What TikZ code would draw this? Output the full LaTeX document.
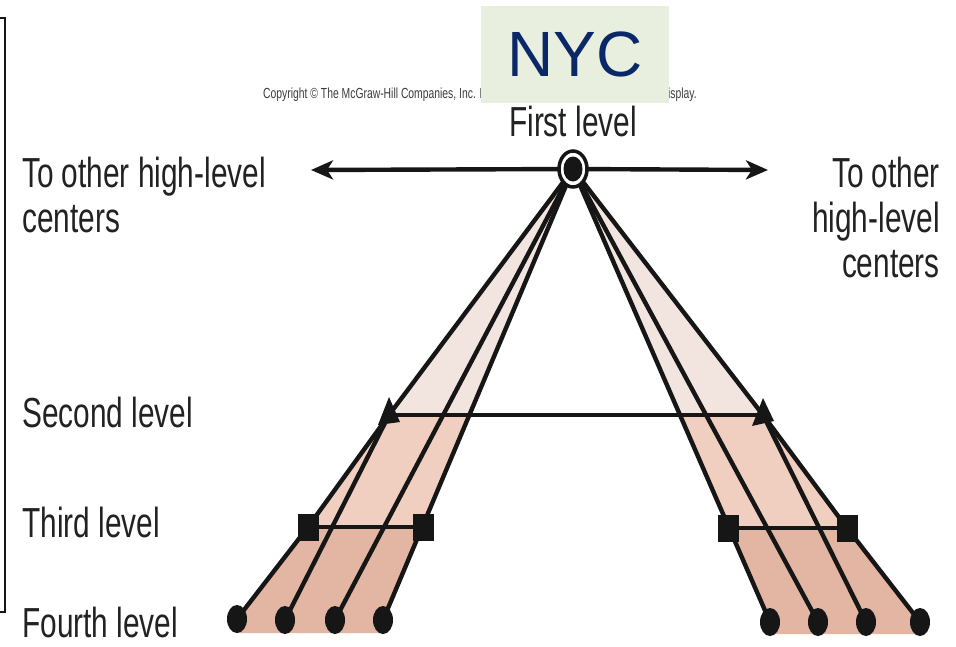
\documentclass[tikz,border=0pt]{standalone}
\usepackage{fontspec}
\setmainfont{Liberation Sans}
\newfontfamily\nf[FakeStretch=0.71]{Liberation Sans}
\usetikzlibrary{arrows.meta,shapes.geometric,calc}
\pgfdeclarelayer{paper}
\pgfdeclarelayer{shade}
\pgfdeclarelayer{wires}
\pgfsetlayers{paper,shade,wires,main}
\definecolor{ink}{RGB}{22,22,22}
\definecolor{labelc}{RGB}{34,34,34}
\definecolor{copyc}{RGB}{60,60,60}
\definecolor{nycbg}{RGB}{233,239,222}
\definecolor{nycfg}{RGB}{10,40,104}
\definecolor{shA}{RGB}{242,228,222}
\definecolor{shB}{RGB}{241,207,192}
\definecolor{shC}{RGB}{227,181,163}
\begin{document}
\begin{tikzpicture}[x=1pt,y=-1pt,
  wire/.style={line width=4.4pt, draw=ink, line cap=round},
  tipstyle/.style={-{Stealth[length=22pt,width=19pt,inset=6pt]}},
  dotnode/.style={ellipse, fill=ink, minimum width=20pt, minimum height=28pt, inner sep=0pt},
  sqnode/.style={rectangle, fill=ink, minimum width=21pt, minimum height=27pt, inner sep=0pt},
  lbl/.style={font=\nf\fontsize{42}{45}\selectfont, text=labelc, inner sep=0pt},
  nycbox/.style={fill=nycbg, minimum width=188pt, minimum height=97pt, inner sep=0pt,
     text=nycfg, font=\fontsize{64}{70}\selectfont}]
\useasboundingbox (0,0) rectangle (956,646);
\begin{pgfonlayer}{paper}
  \fill[white] (0,0) rectangle (956,646);
\end{pgfonlayer}

% left bracket
\draw[line width=2pt, ink] (0,18) -- (5,18) -- (5,612) -- (0,612);

% copyright line (partly hidden by NYC box)
\node[font=\nf\fontsize{14.6}{16}\selectfont, text=copyc, anchor=base west, inner sep=0pt]
  (copy) at (263,98) {Copyright © The McGraw-Hill Companies, Inc. Permission required for reproduction or display.};
\node[nycbox] (nyc) at (575,54.5) {NYC};

% labels
\node[lbl, anchor=base] (first) at (573,136) {First level};
\node[lbl, anchor=base west] (tolA) at (22,187) {To other high-level};
\node[lbl, anchor=base west] (tolB) at (22,232) {centers};
\node[lbl, anchor=base east] (torA) at (940,187) {To other};
\node[lbl, anchor=base east] (torB) at (940,232) {high-level};
\node[lbl, anchor=base east] (torC) at (940,277) {centers};
\node[lbl, anchor=base west] (second) at (22,427) {Second level};
\node[lbl, anchor=base west] (third) at (22,537) {Third level};
\node[lbl, anchor=base west] (fourth) at (22,637) {Fourth level};

% hub
\node[ellipse, draw=ink, line width=3.5pt, fill=white, minimum width=28pt, minimum height=36pt, inner sep=0pt] (hub) at (573,169) {};
\fill[ink] (hub.center) ellipse [x radius=9.5pt, y radius=12.5pt];
\coordinate (arrL) at (311,170);
\coordinate (arrR) at (768,170);

% second level triangles
\coordinate (t2L) at (389,415);
\coordinate (t2R) at (763,415);
\fill[ink] ($(t2L)+(0,-18)$) -- ($(t2L)+(-11,10)$) -- ($(t2L)+(11,7)$) -- cycle;
\fill[ink] ($(t2R)+(0,-17)$) -- ($(t2R)+(-11,11)$) -- ($(t2R)+(11,6)$) -- cycle;

% third level squares
\node[sqnode] (s3a) at (308,527) {};
\node[sqnode] (s3b) at (423,527) {};
\node[sqnode] (s3c) at (728,528) {};
\node[sqnode] (s3d) at (847,528) {};

% fourth level dots
\node[dotnode] (d1) at (237,619) {};
\node[dotnode] (d2) at (285,620) {};
\node[dotnode] (d3) at (335,620) {};
\node[dotnode] (d4) at (383,620) {};
\node[dotnode] (d5) at (770,622) {};
\node[dotnode] (d6) at (818,622) {};
\node[dotnode] (d7) at (866,622) {};
\node[dotnode] (d8) at (920,622) {};

\begin{pgfonlayer}{shade}
  % left
  \fill[shA] (573,169) -- (389,415) -- (469.5,415) -- cycle;
  \fill[shB] (389,415) -- (469.5,415) -- (422.5,527) -- (308,527) -- cycle;
  \fill[shC] (308,527) -- (422.5,527) -- (383,620) -- (383,633) -- (237,633) -- (237,619) -- cycle;
  % right
  \fill[shA] (573,169) -- (680,415) -- (763,415) -- cycle;
  \fill[shB] (680,415) -- (763,415) -- (847,528) -- (728.5,528) -- cycle;
  \fill[shC] (728.5,528) -- (847,528) -- (920,622) -- (920,634) -- (770,634) -- (770,622) -- cycle;
\end{pgfonlayer}

\begin{pgfonlayer}{wires}
  \draw[wire, tipstyle] (hub.center) -- (arrL);
  \draw[wire, tipstyle] (hub.center) -- (arrR);
  % left fan
  \draw[wire] (hub.center) -- (t2L);
  \draw[wire] (hub.center) -- (d3.center);
  \draw[wire] (hub.center) -- (d4.center);
  \draw[wire] (t2L) -- (s3a.center);
  \draw[wire] (t2L) -- (d2.center);
  \draw[wire] (s3a.center) -- (d1.center);
  % right fan
  \draw[wire] (hub.center) -- (t2R);
  \draw[wire] (hub.center) -- (d6.center);
  \draw[wire] (hub.center) -- (d5.center);
  \draw[wire] (t2R) -- (s3d.center);
  \draw[wire] (t2R) -- (d7.center);
  \draw[wire] (s3d.center) -- (d8.center);
  % level links
  \draw[wire] (t2L) -- (t2R);
  \draw[wire] (s3a.center) -- (s3b.center);
  \draw[wire] (s3c.center) -- (s3d.center);
\end{pgfonlayer}
\end{tikzpicture}
\end{document}
